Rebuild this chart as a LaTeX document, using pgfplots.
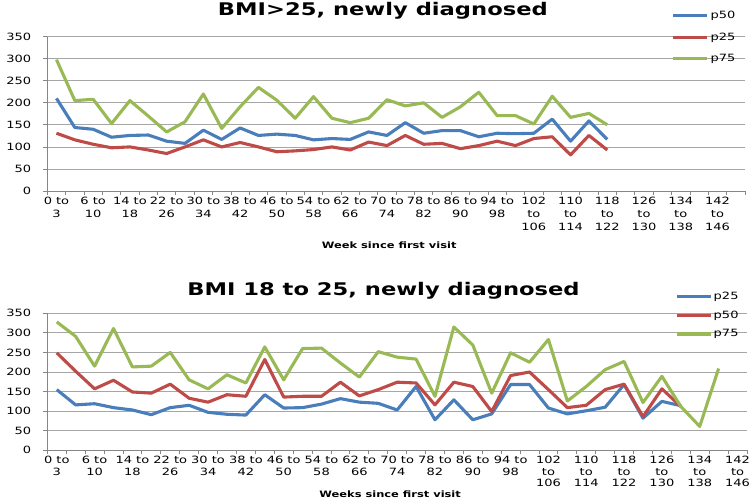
\documentclass[border=0pt]{standalone}
\usepackage{fontspec}
\setmainfont{DejaVu Sans}[FakeStretch=1.3]
\usepackage{pgfplots}
\usepackage{pgfplotstable}
\pgfplotsset{compat=1.18}

\definecolor{sblue}{HTML}{4A7EBB}
\definecolor{sred}{HTML}{BE4B48}
\definecolor{sgreen}{HTML}{98B954}
\definecolor{gridc}{HTML}{A6A6A6}
\definecolor{axc}{HTML}{868686}

\pgfplotstableread{
x p50 p25 p75
0 210 131 298
1 144 116 205
2 140 106 208
3 122 98 153
4 126 100 205
5 127 93 170
6 113 85 134
7 108 100 157
8 138 116 220
9 117 100 142
10 143 110 191
11 126 100 235
12 129 89 206
13 126 91 165
14 116 94 214
15 119 100 165
16 117 93 155
17 134 111 165
18 126 103 207
19 155 126 193
20 131 106 200
21 137 108 167
22 137 96 191
23 123 103 224
24 131 113 171
25 130 103 171
26 131 119 152
27 163 123 215
28 113 82 167
29 159 126 176
30 117 93 150
}\topdata

\pgfplotstableread{
x p25 p50 p75
0 155 249 328
1 116 202 291
2 119 157 215
3 109 179 311
4 103 149 213
5 91 146 215
6 109 169 250
7 115 133 180
8 97 123 157
9 92 142 193
10 90 138 172
11 142 232 264
12 108 136 180
13 109 138 260
14 118 138 261
15 132 174 223
16 123 139 187
17 120 155 252
18 103 174 238
19 163 172 233
20 78 116 138
21 129 174 315
22 78 163 269
23 93 99 146
24 168 191 249
25 168 200 225
26 108 155 283
27 93 109 126
28 101 115 163
29 110 155 206
30 168 169 227
31 82 86 122
32 125 157 189
33 114 112 112
34 nan nan 61
35 nan nan 209
}\botdata

\pgfplotsset{
  chartbase/.style={
    scale only axis,
    ymin=0, ymax=350, ytick={0,50,...,350},
    ymajorgrids,
    grid style={gridc, line width=0.8pt},
    axis x line*=bottom, axis y line*=left,
    axis line style={axc, line width=0.8pt},
    tick align=outside,
    major tick length=4pt,
    tick style={axc, line width=0.8pt},
    xtick={-0.5,0.5,...,37.5}, xticklabels={},
    extra x ticks={0,2,...,36},
    extra x tick labels={{0 to\\3},{6 to\\10},{14 to\\18},{22 to\\26},{30 to\\34},{38 to\\42},{46 to\\50},{54 to\\58},{62 to\\66},{70 to\\74},{78 to\\82},{86 to\\90},{94 to\\98},{102\\to\\106},{110\\to\\114},{118\\to\\122},{126\\to\\130},{134\\to\\138},{142\\to\\146}},
    extra x tick style={major tick length=0pt},
    /pgf/number format/assume math mode=true,
    yticklabel style={font=\fontsize{10}{12}\selectfont, inner sep=0pt, xshift=-12pt},
    legend cell align=left,
    legend image code/.code={\draw[#1] (0pt,0pt) -- (34pt,0pt);},
    every axis plot/.append style={line width=3.1pt, line join=round, mark=none},
    unbounded coords=jump,
  }
}

\begin{document}
\begin{tikzpicture}
\path[use as bounding box] (0,0) rectangle (756pt,504pt);

\begin{axis}[chartbase,
  at={(47.3pt,313pt)}, anchor=south west,
  width=697.7pt, height=154.3pt,
  xmin=-0.5, xmax=37.5,
  xticklabel style={align=center, font=\fontsize{10}{13}\selectfont, inner sep=0pt, yshift=-6pt},
  title={BMI>25, newly diagnosed},
  title style={at={(axis description cs:0.481,1.1374)}, anchor=base, yshift=-6.5pt, inner sep=0pt, font=\fontsize{17.4}{20}\selectfont\bfseries},
  xlabel={Week since first visit},
  xlabel style={at={(axis description cs:0.49,-0.35)}, anchor=center, inner sep=0pt, font=\fontsize{8.8}{10}\selectfont\bfseries},
  legend style={draw=none, fill=none, at={(axis description cs:0.895,1.175)}, anchor=north west, inner sep=0pt, row sep=9.5pt, font=\fontsize{10}{12}\selectfont, nodes={inner sep=1.5pt}},
]
\addplot[sblue] table[x=x, y=p50] {\topdata};
\addlegendentry{p50}
\addplot[sred] table[x=x, y=p25] {\topdata};
\addlegendentry{p25}
\addplot[sgreen] table[x=x, y=p75] {\topdata};
\addlegendentry{p75}
\end{axis}

\begin{axis}[chartbase,
  at={(47.3pt,53.7pt)}, anchor=south west,
  width=699.7pt, height=137pt,
  xmin=-0.5, xmax=36.5,
  xticklabel style={align=center, font=\fontsize{10}{11.5}\selectfont, inner sep=0pt, yshift=-6pt},
  title={BMI 18 to 25, newly diagnosed},
  title style={at={(axis description cs:0.4805,1.119)}, anchor=base, yshift=-5pt, inner sep=0pt, font=\fontsize{17.4}{20}\selectfont\bfseries},
  xlabel={Weeks since first visit},
  xlabel style={at={(axis description cs:0.49,-0.32)}, anchor=center, inner sep=0pt, font=\fontsize{8.8}{10}\selectfont\bfseries},
  legend style={draw=none, fill=none, at={(axis description cs:0.897,1.17)}, anchor=north west, inner sep=0pt, row sep=7pt, font=\fontsize{10}{12}\selectfont, nodes={inner sep=1.5pt}},
]
\addplot[sblue] table[x=x, y=p25] {\botdata};
\addlegendentry{p25}
\addplot[sred] table[x=x, y=p50] {\botdata};
\addlegendentry{p50}
\addplot[sgreen] table[x=x, y=p75] {\botdata};
\addlegendentry{p75}
\end{axis}
\end{tikzpicture}
\end{document}
